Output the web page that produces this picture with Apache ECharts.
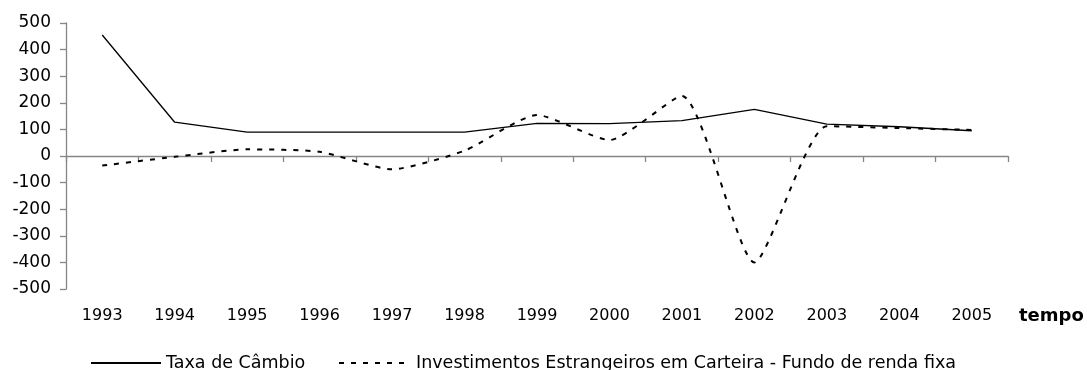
<!DOCTYPE html>
<html>
<head>
<meta charset="utf-8">
<script src="https://cdn.jsdelivr.net/npm/echarts@6/dist/echarts.min.js"></script>
<style>
  html, body { margin: 0; padding: 0; background: #ffffff; }
  #chart { width: 1087px; height: 370px; }
</style>
</head>
<body>
<div id="chart"></div>
<script>
// Years on the category axis
const years = ['1993', '1994', '1995', '1996', '1997', '1998', '1999',
               '2000', '2001', '2002', '2003', '2004', '2005'];

// Exchange rate index
const taxaCambio = [455, 127, 90, 90, 90, 90, 123, 122, 133, 175, 120, 110, 95];

// Foreign portfolio investment - fixed income funds
const investimentos = [-36, -3, 25, 16, -50, 20, 154, 60, 226, -400, 112, 105, 98];

// Value axis ticks
const yMin = -500;
const yMax = 500;
const yStep = 100;

const nameCambio = 'Taxa de Câmbio';
const nameInvest = 'Investimentos Estrangeiros em Carteira - Fundo de renda fixa';

const FONT = '"DejaVu Sans", Verdana, sans-serif';
const AXIS_GRAY = '#868686';

const chart = echarts.init(document.getElementById('chart'), null, { renderer: 'canvas' });

const legendCommon = {
  orient: 'horizontal',
  padding: 0,
  itemHeight: 10,
  itemGap: 0,
  selectedMode: false,
  itemStyle: { opacity: 0 },
  textStyle: { fontFamily: FONT, fontSize: 17.5, color: '#000' }
};

chart.setOption({
  animation: false,
  backgroundColor: '#ffffff',
  textStyle: { fontFamily: FONT, color: '#000' },
  grid: { left: 66, right: 79, top: 23, bottom: 81, containLabel: false },
  legend: [
    Object.assign({}, legendCommon, {
      data: [nameCambio],
      left: 90, top: 354,
      itemWidth: 70
    }),
    Object.assign({}, legendCommon, {
      data: [nameInvest],
      left: 338, top: 354,
      itemWidth: 72
    })
  ],
  xAxis: [
    {
      // axis line crossing at zero, ticks between categories
      type: 'category',
      data: years,
      boundaryGap: true,
      axisLine: { onZero: true, lineStyle: { color: AXIS_GRAY, width: 1.3 } },
      axisTick: { show: true, inside: false, length: 6, alignWithLabel: false,
                  lineStyle: { color: AXIS_GRAY, width: 1.3 } },
      axisLabel: { show: false },
      splitLine: { show: false }
    },
    {
      // year labels along the bottom edge
      type: 'category',
      data: years,
      position: 'bottom',
      boundaryGap: true,
      axisLine: { show: false, onZero: false },
      axisTick: { show: false },
      axisLabel: { show: true, margin: 19, fontFamily: FONT, fontSize: 16, color: '#000' },
      splitLine: { show: false },
      name: 'tempo',
      nameLocation: 'end',
      nameGap: 11,
      nameTextStyle: { fontFamily: FONT, fontSize: 18, fontWeight: 'bold', color: '#000',
                       verticalAlign: 'top', padding: [18, 0, 0, 0] }
    }
  ],
  yAxis: {
    type: 'value',
    min: yMin, max: yMax, interval: yStep,
    axisLine: { show: true, lineStyle: { color: AXIS_GRAY, width: 1.3 } },
    axisTick: { show: true, inside: false, length: 6, lineStyle: { color: AXIS_GRAY, width: 1.3 } },
    axisLabel: { margin: 15, fontFamily: FONT, fontSize: 17, color: '#000' },
    splitLine: { show: false }
  },
  series: [
    {
      name: nameCambio,
      type: 'line',
      xAxisIndex: 0,
      data: taxaCambio,
      symbol: 'none',
      smooth: false,
      lineStyle: { color: '#000', width: 1.3, type: 'solid' },
      itemStyle: { color: '#000' }
    },
    {
      name: nameInvest,
      type: 'line',
      xAxisIndex: 0,
      data: investimentos,
      symbol: 'none',
      smooth: 0.2,
      lineStyle: { color: '#000', width: 2, type: [5, 7] },
      itemStyle: { color: '#000' }
    }
  ]
});
</script>
</body>
</html>
